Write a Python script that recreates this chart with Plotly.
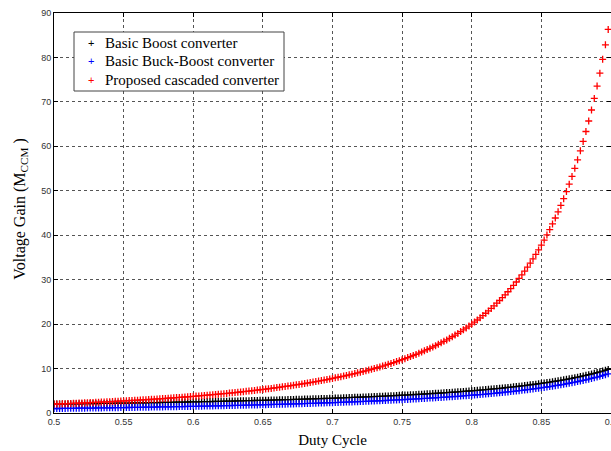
import plotly.graph_objects as go

duty_cycle = [
    0.500, 0.502, 0.504, 0.506, 0.508, 0.510, 0.512, 0.514, 0.516, 0.518,
    0.520, 0.522, 0.524, 0.526, 0.528, 0.530, 0.532, 0.534, 0.536, 0.538,
    0.540, 0.542, 0.544, 0.546, 0.548, 0.550, 0.552, 0.554, 0.556, 0.558,
    0.560, 0.562, 0.564, 0.566, 0.568, 0.570, 0.572, 0.574, 0.576, 0.578,
    0.580, 0.582, 0.584, 0.586, 0.588, 0.590, 0.592, 0.594, 0.596, 0.598,
    0.600, 0.602, 0.604, 0.606, 0.608, 0.610, 0.612, 0.614, 0.616, 0.618,
    0.620, 0.622, 0.624, 0.626, 0.628, 0.630, 0.632, 0.634, 0.636, 0.638,
    0.640, 0.642, 0.644, 0.646, 0.648, 0.650, 0.652, 0.654, 0.656, 0.658,
    0.660, 0.662, 0.664, 0.666, 0.668, 0.670, 0.672, 0.674, 0.676, 0.678,
    0.680, 0.682, 0.684, 0.686, 0.688, 0.690, 0.692, 0.694, 0.696, 0.698,
    0.700, 0.702, 0.704, 0.706, 0.708, 0.710, 0.712, 0.714, 0.716, 0.718,
    0.720, 0.722, 0.724, 0.726, 0.728, 0.730, 0.732, 0.734, 0.736, 0.738,
    0.740, 0.742, 0.744, 0.746, 0.748, 0.750, 0.752, 0.754, 0.756, 0.758,
    0.760, 0.762, 0.764, 0.766, 0.768, 0.770, 0.772, 0.774, 0.776, 0.778,
    0.780, 0.782, 0.784, 0.786, 0.788, 0.790, 0.792, 0.794, 0.796, 0.798,
    0.800, 0.802, 0.804, 0.806, 0.808, 0.810, 0.812, 0.814, 0.816, 0.818,
    0.820, 0.822, 0.824, 0.826, 0.828, 0.830, 0.832, 0.834, 0.836, 0.838,
    0.840, 0.842, 0.844, 0.846, 0.848, 0.850, 0.852, 0.854, 0.856, 0.858,
    0.860, 0.862, 0.864, 0.866, 0.868, 0.870, 0.872, 0.874, 0.876, 0.878,
    0.880, 0.882, 0.884, 0.886, 0.888, 0.890, 0.892, 0.894, 0.896, 0.898,
]

boost_gain = [
    2.000, 2.008, 2.016, 2.024, 2.033, 2.041, 2.049, 2.058, 2.066, 2.075,
    2.083, 2.092, 2.101, 2.110, 2.119, 2.128, 2.137, 2.146, 2.155, 2.165,
    2.174, 2.183, 2.193, 2.203, 2.212, 2.222, 2.232, 2.242, 2.252, 2.262,
    2.273, 2.283, 2.294, 2.304, 2.315, 2.326, 2.336, 2.347, 2.358, 2.370,
    2.381, 2.392, 2.404, 2.415, 2.427, 2.439, 2.451, 2.463, 2.475, 2.488,
    2.500, 2.513, 2.525, 2.538, 2.551, 2.564, 2.577, 2.591, 2.604, 2.618,
    2.632, 2.646, 2.660, 2.674, 2.688, 2.703, 2.717, 2.732, 2.747, 2.762,
    2.778, 2.793, 2.809, 2.825, 2.841, 2.857, 2.874, 2.890, 2.907, 2.924,
    2.941, 2.959, 2.976, 2.994, 3.012, 3.030, 3.049, 3.067, 3.086, 3.106,
    3.125, 3.145, 3.165, 3.185, 3.205, 3.226, 3.247, 3.268, 3.289, 3.311,
    3.333, 3.356, 3.378, 3.401, 3.425, 3.448, 3.472, 3.497, 3.521, 3.546,
    3.571, 3.597, 3.623, 3.650, 3.676, 3.704, 3.731, 3.759, 3.788, 3.817,
    3.846, 3.876, 3.906, 3.937, 3.968, 4.000, 4.032, 4.065, 4.098, 4.132,
    4.167, 4.202, 4.237, 4.274, 4.310, 4.348, 4.386, 4.425, 4.464, 4.505,
    4.545, 4.587, 4.630, 4.673, 4.717, 4.762, 4.808, 4.854, 4.902, 4.950,
    5.000, 5.051, 5.102, 5.155, 5.208, 5.263, 5.319, 5.376, 5.435, 5.495,
    5.556, 5.618, 5.682, 5.747, 5.814, 5.882, 5.952, 6.024, 6.098, 6.173,
    6.250, 6.329, 6.410, 6.494, 6.579, 6.667, 6.757, 6.849, 6.944, 7.042,
    7.143, 7.246, 7.353, 7.463, 7.576, 7.692, 7.813, 7.937, 8.065, 8.197,
    8.333, 8.475, 8.621, 8.772, 8.929, 9.091, 9.259, 9.434, 9.615, 9.804,
]

buck_boost_gain = [
    1.000, 1.008, 1.016, 1.024, 1.033, 1.041, 1.049, 1.058, 1.066, 1.075,
    1.083, 1.092, 1.101, 1.110, 1.119, 1.128, 1.137, 1.146, 1.155, 1.165,
    1.174, 1.183, 1.193, 1.203, 1.212, 1.222, 1.232, 1.242, 1.252, 1.262,
    1.273, 1.283, 1.294, 1.304, 1.315, 1.326, 1.336, 1.347, 1.358, 1.370,
    1.381, 1.392, 1.404, 1.415, 1.427, 1.439, 1.451, 1.463, 1.475, 1.488,
    1.500, 1.513, 1.525, 1.538, 1.551, 1.564, 1.577, 1.591, 1.604, 1.618,
    1.632, 1.646, 1.660, 1.674, 1.688, 1.703, 1.717, 1.732, 1.747, 1.762,
    1.778, 1.793, 1.809, 1.825, 1.841, 1.857, 1.874, 1.890, 1.907, 1.924,
    1.941, 1.959, 1.976, 1.994, 2.012, 2.030, 2.049, 2.067, 2.086, 2.106,
    2.125, 2.145, 2.165, 2.185, 2.205, 2.226, 2.247, 2.268, 2.289, 2.311,
    2.333, 2.356, 2.378, 2.401, 2.425, 2.448, 2.472, 2.497, 2.521, 2.546,
    2.571, 2.597, 2.623, 2.650, 2.676, 2.704, 2.731, 2.759, 2.788, 2.817,
    2.846, 2.876, 2.906, 2.937, 2.968, 3.000, 3.032, 3.065, 3.098, 3.132,
    3.167, 3.202, 3.237, 3.274, 3.310, 3.348, 3.386, 3.425, 3.464, 3.505,
    3.545, 3.587, 3.630, 3.673, 3.717, 3.762, 3.808, 3.854, 3.902, 3.950,
    4.000, 4.051, 4.102, 4.155, 4.208, 4.263, 4.319, 4.376, 4.435, 4.495,
    4.556, 4.618, 4.682, 4.747, 4.814, 4.882, 4.952, 5.024, 5.098, 5.173,
    5.250, 5.329, 5.410, 5.494, 5.579, 5.667, 5.757, 5.849, 5.944, 6.042,
    6.143, 6.246, 6.353, 6.463, 6.576, 6.692, 6.813, 6.937, 7.065, 7.197,
    7.333, 7.475, 7.621, 7.772, 7.929, 8.091, 8.259, 8.434, 8.615, 8.804,
]

proposed_gain = [
    2.00, 2.02, 2.05, 2.07, 2.10, 2.12, 2.15, 2.18, 2.20, 2.23,
    2.26, 2.28, 2.31, 2.34, 2.37, 2.40, 2.43, 2.46, 2.49, 2.52,
    2.55, 2.58, 2.62, 2.65, 2.68, 2.72, 2.75, 2.79, 2.82, 2.86,
    2.89, 2.93, 2.97, 3.00, 3.04, 3.08, 3.12, 3.16, 3.20, 3.25,
    3.29, 3.33, 3.37, 3.42, 3.46, 3.51, 3.56, 3.60, 3.65, 3.70,
    3.75, 3.80, 3.85, 3.90, 3.96, 4.01, 4.07, 4.12, 4.18, 4.24,
    4.29, 4.35, 4.41, 4.48, 4.54, 4.60, 4.67, 4.73, 4.80, 4.87,
    4.94, 5.01, 5.08, 5.16, 5.23, 5.31, 5.38, 5.46, 5.54, 5.63,
    5.71, 5.79, 5.88, 5.97, 6.06, 6.15, 6.25, 6.34, 6.44, 6.54,
    6.64, 6.74, 6.85, 6.96, 7.07, 7.18, 7.29, 7.41, 7.53, 7.65,
    7.78, 7.91, 8.04, 8.17, 8.30, 8.44, 8.58, 8.73, 8.88, 9.03,
    9.18, 9.34, 9.50, 9.67, 9.84, 10.01, 10.19, 10.37, 10.56, 10.75,
    10.95, 11.15, 11.35, 11.56, 11.78, 12.00, 12.23, 12.46, 12.70, 12.94,
    13.19, 13.45, 13.72, 13.99, 14.27, 14.56, 14.85, 15.15, 15.47, 15.79,
    16.12, 16.45, 16.80, 17.16, 17.53, 17.91, 18.31, 18.71, 19.13, 19.56,
    20.00, 20.46, 20.93, 21.42, 21.92, 22.44, 22.97, 23.53, 24.10, 24.70,
    25.31, 25.94, 26.60, 27.28, 27.99, 28.72, 29.48, 30.27, 31.08, 31.93,
    32.81, 33.73, 34.68, 35.67, 36.70, 37.78, 38.90, 40.06, 41.28, 42.55,
    43.88, 45.26, 46.71, 48.23, 49.82, 51.48, 53.22, 55.05, 56.97, 58.99,
    61.11, 63.34, 65.70, 68.17, 70.79, 73.55, 76.47, 79.57, 82.84, 86.31,
]

series_names = ["Basic Boost converter", "Basic Buck-Boost converter",
                "Proposed cascaded converter"]
series_values = [boost_gain, buck_boost_gain, proposed_gain]
series_colors = ["#000000", "#0000ff", "#ff0000"]

x_ticks = [0.5, 0.55, 0.6, 0.65, 0.7, 0.75, 0.8, 0.85, 0.9]
x_tick_labels = ["0.5", "0.55", "0.6", "0.65", "0.7", "0.75", "0.8", "0.85", "0.9"]
y_ticks = [0, 10, 20, 30, 40, 50, 60, 70, 80, 90]

fig = go.Figure()
for name, vals, col in zip(series_names, series_values, series_colors):
    fig.add_trace(go.Scatter(
        x=duty_cycle, y=vals, mode="markers", name=name, showlegend=False,
        marker=dict(symbol="cross-thin", size=5, color=col,
                    line=dict(width=1.3, color=col)),
    ))

axis_common = dict(
    showline=True, linecolor="#000000", linewidth=1, mirror="ticks",
    ticks="inside", ticklen=4, tickcolor="#000000",
    showgrid=True, gridcolor="#555555", griddash="dot", gridwidth=1,
    zeroline=False,
    tickfont=dict(family="Liberation Sans", size=9, color="#333333"),
)

fig.update_xaxes(
    range=[0.5, 0.9], tickvals=x_ticks, ticktext=x_tick_labels,
    ticklabeloverflow="allow",
    title=dict(text="Duty Cycle", standoff=8,
               font=dict(family="Liberation Serif", size=15, color="#000000")),
    **axis_common,
)
fig.update_yaxes(
    range=[0, 90], tickvals=y_ticks,
    title=dict(text="&nbsp;&nbsp;Voltage Gain (M<sub>CCM</sub> )", standoff=11,
               font=dict(family="Liberation Serif", size=16, color="#000000")),
    **axis_common,
)

# Legend box drawn in paper coordinates (plot area: 557 x 400 px)
PW, PH = 557.0, 400.0
def px(x):
    return (x - 54) / PW
def py(y):
    return (413 - y) / PH

fig.add_shape(type="rect", xref="paper", yref="paper",
              x0=px(74), x1=px(284), y0=py(91), y1=py(32),
              line=dict(color="#444444", width=1), fillcolor="#ffffff",
              layer="above")
row_y = [43, 61.5, 80]
for name, col, ry in zip(series_names, series_colors, row_y):
    fig.add_annotation(xref="paper", yref="paper", x=px(91), y=py(ry),
                       text="+", showarrow=False, xanchor="center",
                       yanchor="middle",
                       font=dict(family="Liberation Sans", size=11, color=col))
    fig.add_annotation(xref="paper", yref="paper", x=px(103), y=py(ry),
                       text=name, showarrow=False, xanchor="left",
                       yanchor="middle",
                       font=dict(family="Liberation Serif", size=15,
                                 color="#000000"))

fig.update_layout(
    width=611, height=451,
    margin=dict(l=54, r=0, t=13, b=38, autoexpand=False),
    paper_bgcolor="#ffffff", plot_bgcolor="#ffffff",
    showlegend=False,
)

fig.write_html("out.html",
               config={"displayModeBar": False},
               post_script="document.body.style.margin='0';"
                           "document.body.style.overflow='hidden';")
